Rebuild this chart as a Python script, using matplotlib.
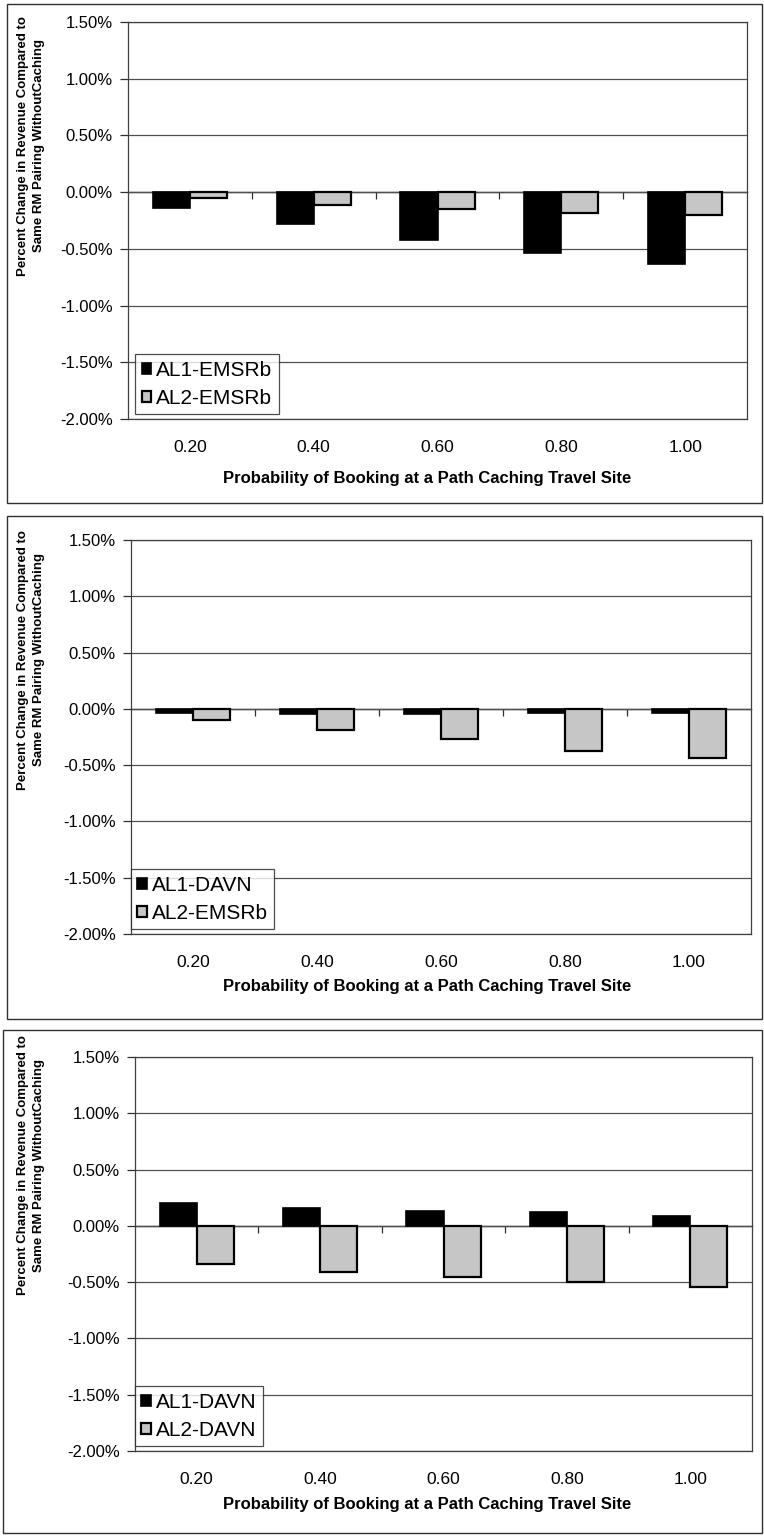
import numpy as np
import matplotlib
matplotlib.use("Agg")
import matplotlib.pyplot as plt
from matplotlib.patches import Rectangle
from matplotlib.ticker import FuncFormatter, MultipleLocator

plt.rcParams['font.family'] = ['Liberation Sans', 'DejaVu Sans']

# booking probability at the path caching site
probs = ["0.20", "0.40", "0.60", "0.80", "1.00"]

# revenue change (%) vs same RM pairing without caching
al1_emsrb = [-0.14, -0.28, -0.42, -0.54, -0.63]
al2_emsrb_a = [-0.05, -0.11, -0.15, -0.18, -0.20]

al1_davn_b = [-0.04, -0.05, -0.05, -0.04, -0.04]
al2_emsrb_b = [-0.10, -0.19, -0.27, -0.37, -0.44]

al1_davn_c = [0.20, 0.16, 0.13, 0.12, 0.09]
al2_davn_c = [-0.34, -0.41, -0.45, -0.50, -0.54]

W, H = 764, 1537
fig = plt.figure(figsize=(W / 100, H / 100), dpi=100)


def px(l, t, r, b):
    return [l / W, 1 - b / H, (r - l) / W, (b - t) / H]


ylab = "Percent Change in Revenue Compared to\nSame RM Pairing WithoutCaching"
xlab = "Probability of Booking at a Path Caching Travel Site"


def panel(frame, area, s1, s2, names, ylab_y, xlab_y, leg_box):
    # outer frame around each chart
    fig.add_artist(Rectangle((frame[0] / W, 1 - frame[3] / H),
                             (frame[2] - frame[0]) / W, (frame[3] - frame[1]) / H,
                             transform=fig.transFigure, fill=False,
                             edgecolor='#303030', linewidth=1.0))
    ax = fig.add_axes(px(*area))
    x = np.arange(len(probs))
    w = 0.3
    ax.bar(x - w / 2, s1, w, color='black', edgecolor='black',
           linewidth=1.2, label=names[0], zorder=3)
    ax.bar(x + w / 2, s2, w, color='#c6c6c6', edgecolor='black',
           linewidth=1.6, label=names[1], zorder=3)
    ax.set_xlim(-0.5, len(probs) - 0.5)
    ax.set_ylim(-2.0, 1.5)
    ax.yaxis.set_major_locator(MultipleLocator(0.5))
    ax.yaxis.set_major_formatter(FuncFormatter(lambda v, p: f"{v:.2f}%"))
    ax.grid(axis='y', color='#505050', linewidth=0.9, zorder=0)
    ax.tick_params(axis='y', direction='out', length=6, width=0.9,
                   labelsize=12, pad=5, color='#303030')
    ax.set_xticks(x)
    ax.set_xticklabels(probs)
    ax.tick_params(axis='x', length=0, labelsize=12.5, pad=15)
    for s in ax.spines.values():
        s.set_color('#404040')
        s.set_linewidth(0.9)

    # category axis crossing at zero with boundary tick marks
    zero = (0 - (-2.0)) / 3.5
    sec = ax.secondary_xaxis(zero)
    sec.set_xticks(np.arange(len(probs) - 1) + 0.5)
    sec.set_xticklabels([])
    sec.tick_params(direction='in', length=5, width=0.9, color='#303030')
    sec.spines['top'].set_color('#202020')
    sec.spines['top'].set_linewidth(1.0)

    leg = ax.legend(loc='lower left', bbox_to_anchor=leg_box, fontsize=15,
                    frameon=True, fancybox=False, handlelength=0.45,
                    handleheight=0.45, handletextpad=0.25, borderpad=0.3,
                    labelspacing=0.45, borderaxespad=0.0)
    leg.get_frame().set_edgecolor('#202020')
    leg.get_frame().set_linewidth(0.9)
    leg.set_zorder(5)

    fig.text(31 / W, 1 - ylab_y / H, ylab, rotation=90, ha='center',
             va='center', multialignment='center', fontsize=9.5,
             fontweight='bold', linespacing=1.4)
    fig.text(427 / W, 1 - xlab_y / H, xlab, ha='center', va='center',
             fontsize=12, fontweight='bold')
    return ax


panel((7, 4, 762, 503), (128, 22, 747, 419), al1_emsrb, al2_emsrb_a,
      ["AL1-EMSRb", "AL2-EMSRb"], 146, 478, (0.012, 0.012))
panel((7, 516, 762, 1019), (131, 540, 751, 934), al1_davn_b, al2_emsrb_b,
      ["AL1-DAVN", "AL2-EMSRb"], 660, 986, (0.0, 0.012))
panel((3, 1030, 762, 1533), (135, 1057, 752, 1451), al1_davn_c, al2_davn_c,
      ["AL1-DAVN", "AL2-DAVN"], 1165, 1504, (0.0, 0.012))

fig.savefig("out.png", dpi=100)
